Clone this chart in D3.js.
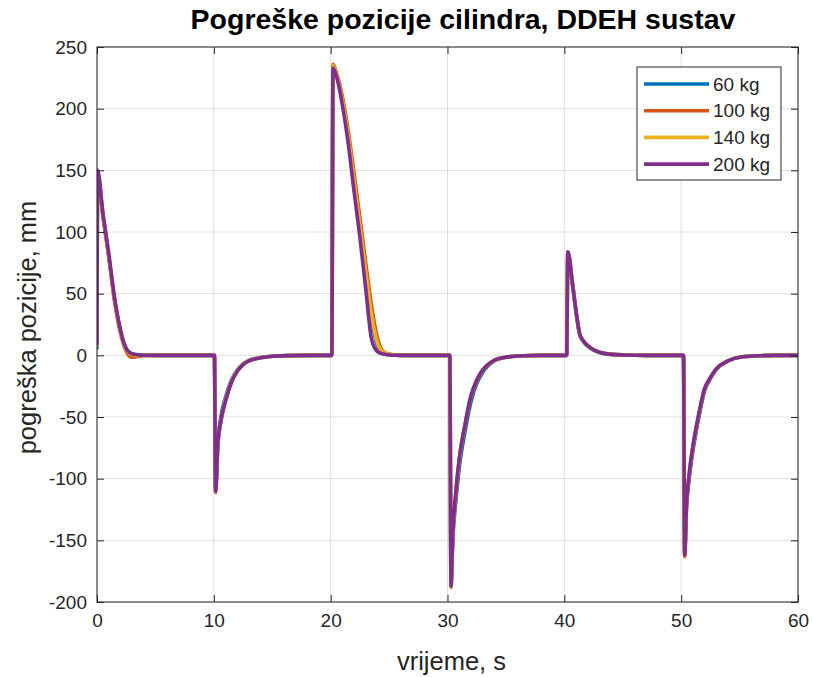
<!DOCTYPE html>
<html>
<head>
<meta charset="utf-8">
<script src="https://cdn.jsdelivr.net/npm/d3@7"></script>
<style>
  html, body { margin: 0; padding: 0; background: #fff; }
  svg { display: block; font-family: "Liberation Sans", Arial, Helvetica, sans-serif; }
</style>
</head>
<body>
<svg id="chart" width="813" height="677"></svg>
<script>
// ---- data ----
const time = [
  0, 0.05, 0.5, 1.0, 1.5, 2.0, 2.3, 2.6, 3.0, 3.5, 4.0, 5.0, 7.0, 10.05,
  10.15, 10.35, 10.6, 11.0, 11.5, 12.0, 12.5, 13.0, 14.0, 15.0, 16.5, 18.0, 20.1,
  20.2, 20.5, 21.0, 21.5, 22.0, 22.5, 23.0, 23.5, 24.0, 24.5, 25.0, 26.0, 28.0, 30.2,
  30.3, 30.45, 30.7, 31.0, 31.5, 32.0, 32.5, 33.0, 34.0, 35.0, 36.5, 38.0, 40.2,
  40.3, 40.7, 41.0, 41.3, 41.6, 42.0, 42.5, 43.0, 44.0, 45.0, 47.0, 50.2,
  50.3, 50.45, 50.7, 51.0, 51.5, 52.0, 52.5, 53.0, 54.0, 55.0, 56.5, 58.0, 60.0
];
const err60 = [
  6, 148, 114, 81, 45, 20, 10, 4, 1.3, 0.5, 0.1, 0, 0, 0,
  -108, -70, -50, -34, -20, -12, -7, -4, -1.8, -0.7, -0.2, 0, 0,
  235, 228, 208, 179, 143, 106, 68, 30, 8, 2, 0.5, 0, 0, 0,
  -186, -150, -120, -92, -62, -38, -23, -14, -4.5, -1.6, -0.3, 0, 0,
  83, 57, 35, 17, 11.5, 7.5, 4.2, 2.3, 0.8, 0.3, 0, 0,
  -160, -125, -99, -78, -51, -29, -19, -11.5, -4.6, -1.5, -0.4, 0, 0
];
const err100 = [
  10, 146, 113, 80, 44, 18, 8, 1.5, -1.5, -0.8, -0.2, 0, 0, 0,
  -111, -72, -54, -37, -22, -13, -7.5, -4.5, -2, -0.8, -0.2, 0, 0,
  236, 229, 210, 182, 148, 112, 75, 40, 14, 3, 1, 0, 0, 0,
  -188, -147, -114, -86, -57, -34, -21, -12.5, -4.2, -1.5, -0.3, 0, 0,
  84, 58, 36, 18, 12, 8, 4.5, 2.5, 0.8, 0.3, 0, 0,
  -163, -124, -96, -75, -49, -28, -18.5, -11.2, -4.5, -1.5, -0.4, 0, 0
];
const err140 = [
  8, 148, 115, 82, 46, 20, 9, 3, 0.5, 0, 0, 0, 0, 0,
  -110, -71, -53, -36, -21, -12.5, -7.2, -4.3, -1.9, -0.8, -0.2, 0, 0,
  235, 228, 207, 178, 142, 105, 68, 33, 10, 2.5, 0.8, 0, 0, 0,
  -187, -146, -113, -85, -56, -33, -20, -12, -4, -1.5, -0.3, 0, 0,
  84, 58, 36, 18, 12, 8, 4.5, 2.5, 0.8, 0.3, 0, 0,
  -162, -123, -95, -74, -48, -27, -18, -11, -4.5, -1.5, -0.4, 0, 0
];
const err200 = [
  9, 150, 116, 83, 47, 21, 10, 4, 1.2, 0.4, 0.1, 0, 0, 0,
  -110, -71, -53, -37, -22, -13, -7.5, -4.5, -2, -0.8, -0.2, 0, 0,
  233, 226, 203, 172, 133, 96, 54, 13, 3, 1, 0.3, 0, 0, 0,
  -187, -145, -112, -84, -56, -33, -20, -12, -4, -1.5, -0.3, 0, 0,
  84, 58, 36, 18, 12, 8, 4.5, 2.5, 0.8, 0.3, 0, 0,
  -162, -123, -95, -74, -48, -27, -18, -11, -4.5, -1.5, -0.4, 0, 0
];
const seriesNames = ["60 kg", "100 kg", "140 kg", "200 kg"];
const seriesColors = ["#0072BD", "#D95319", "#EDB120", "#7E2F8E"];
const xTicks = [0, 10, 20, 30, 40, 50, 60];
const yTicks = [-200, -150, -100, -50, 0, 50, 100, 150, 200, 250];
const titleText = "Pogreške pozicije cilindra, DDEH sustav";
const xLabelText = "vrijeme, s";
const yLabelText = "pogreška pozicije, mm";

// ---- layout ----
const svg = d3.select("#chart");
const L = 97, R = 798, T = 47, B = 602;
const x = d3.scaleLinear().domain([0, 60]).range([L, R]);
const y = d3.scaleLinear().domain([-200, 250]).range([B, T]);
const axisColor = "#262626";

// grid
const grid = svg.append("g");
grid.selectAll(".gx").data(xTicks).join("line")
  .attr("x1", d => x(d)).attr("x2", d => x(d)).attr("y1", T).attr("y2", B)
  .attr("stroke", "#dfdfdf").attr("stroke-width", 1);
grid.selectAll(".gy").data(yTicks).join("line")
  .attr("x1", L).attr("x2", R).attr("y1", d => y(d)).attr("y2", d => y(d))
  .attr("stroke", "#dfdfdf").attr("stroke-width", 1);

// lines
const allSeries = [err60, err100, err140, err200];
const line = d3.line().x(d => x(d[0])).y(d => y(d[1])).curve(d3.curveMonotoneX);
const clip = svg.append("clipPath").attr("id", "clip").append("rect")
  .attr("x", L).attr("y", T - 2).attr("width", R - L).attr("height", B - T + 4);
const lg = svg.append("g").attr("clip-path", "url(#clip)");
allSeries.forEach((vals, i) => {
  const pts = time.map((t, j) => [t, vals[j]]);
  lg.append("path").attr("d", line(pts)).attr("fill", "none")
    .attr("stroke", seriesColors[i]).attr("stroke-width", 3.6)
    .attr("stroke-linejoin", "round").attr("stroke-linecap", "round");
});

// axes
const tickLen = 7;
const fmt = d => String(d);
const xAxisB = d3.axisBottom(x).tickValues(xTicks).tickSizeInner(-tickLen).tickSizeOuter(0).tickPadding(12).tickFormat(fmt);
const xAxisT = d3.axisTop(x).tickValues(xTicks).tickSizeInner(-tickLen).tickSizeOuter(0).tickFormat("");
const yAxisL = d3.axisLeft(y).tickValues(yTicks).tickSizeInner(-tickLen).tickSizeOuter(0).tickPadding(10).tickFormat(fmt);
const yAxisR = d3.axisRight(y).tickValues(yTicks).tickSizeInner(-tickLen).tickSizeOuter(0).tickFormat("");
function style(g) {
  g.select(".domain").remove();
  g.selectAll("line").attr("stroke", axisColor);
  g.selectAll("text").attr("fill", axisColor).style("font-size", "19px")
    .style("font-family", "'Liberation Sans', Arial, sans-serif");
}
svg.append("g").attr("transform", `translate(0,${B})`).call(xAxisB).call(style);
svg.append("g").attr("transform", `translate(0,${T})`).call(xAxisT).call(style);
svg.append("g").attr("transform", `translate(${L},0)`).call(yAxisL).call(style);
svg.append("g").attr("transform", `translate(${R},0)`).call(yAxisR).call(style);
svg.append("rect").attr("x", L).attr("y", T).attr("width", R - L).attr("height", B - T)
  .attr("fill", "none").attr("stroke", axisColor).attr("stroke-width", 1);

// legend
const legX = 637, legY = 67, legW = 144, legH = 113;
const leg = svg.append("g");
leg.append("rect").attr("x", legX).attr("y", legY).attr("width", legW).attr("height", legH)
  .attr("fill", "#fff").attr("stroke", axisColor).attr("stroke-width", 1);
seriesNames.forEach((n, i) => {
  const yy = legY + 17 + i * 26.7;
  leg.append("line").attr("x1", legX + 7).attr("x2", legX + 72).attr("y1", yy).attr("y2", yy)
    .attr("stroke", seriesColors[i]).attr("stroke-width", 3.6);
  leg.append("text").attr("x", legX + 76).attr("y", yy).attr("dy", "0.35em")
    .attr("fill", axisColor).style("font-size", "19px").text(n);
});

// labels
svg.append("text").attr("x", 463).attr("y", 29).attr("text-anchor", "middle")
  .style("font-size", "28.5px").style("font-weight", "bold").attr("fill", "#000").text(titleText);
svg.append("text").attr("x", (L + R) / 2 + 4).attr("y", 670).attr("text-anchor", "middle")
  .style("font-size", "25.5px").attr("fill", axisColor).text(xLabelText);
svg.append("text").attr("transform", `translate(36,${(T + B) / 2 + 3}) rotate(-90)`).attr("text-anchor", "middle")
  .style("font-size", "25.5px").attr("fill", axisColor).text(yLabelText);
</script>
</body>
</html>
